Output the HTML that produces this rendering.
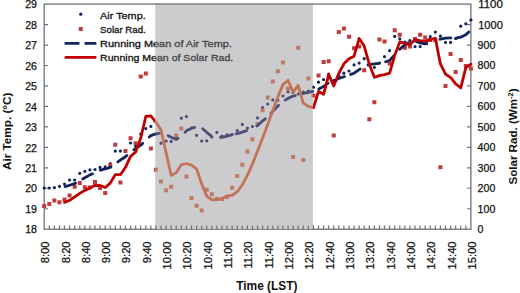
<!DOCTYPE html>
<html><head><meta charset="utf-8"><style>html,body{margin:0;padding:0;background:#fff;overflow:hidden}svg{display:block}</style></head>
<body><svg width="520" height="293" viewBox="0 0 520 293"><rect x="44.2" y="4.1" width="426.70" height="225.10" fill="none" stroke="#737076" stroke-width="1.3"/>
<path d="M49.28 229.2V225.4M54.36 229.2V225.4M59.44 229.2V225.4M64.52 229.2V225.4M69.60 229.2V225.4M74.68 229.2V225.4M79.76 229.2V225.4M84.84 229.2V225.4M89.92 229.2V225.4M95.00 229.2V225.4M100.08 229.2V225.4M105.16 229.2V225.4M110.24 229.2V225.4M115.32 229.2V225.4M120.40 229.2V225.4M125.48 229.2V225.4M130.56 229.2V225.4M135.64 229.2V225.4M140.72 229.2V225.4M145.80 229.2V225.4M150.88 229.2V225.4M155.95 229.2V225.4M161.03 229.2V225.4M166.11 229.2V225.4M171.19 229.2V225.4M176.27 229.2V225.4M181.35 229.2V225.4M186.43 229.2V225.4M191.51 229.2V225.4M196.59 229.2V225.4M201.67 229.2V225.4M206.75 229.2V225.4M211.83 229.2V225.4M216.91 229.2V225.4M221.99 229.2V225.4M227.07 229.2V225.4M232.15 229.2V225.4M237.23 229.2V225.4M242.31 229.2V225.4M247.39 229.2V225.4M252.47 229.2V225.4M257.55 229.2V225.4M262.63 229.2V225.4M267.71 229.2V225.4M272.79 229.2V225.4M277.87 229.2V225.4M282.95 229.2V225.4M288.03 229.2V225.4M293.11 229.2V225.4M298.19 229.2V225.4M303.27 229.2V225.4M308.35 229.2V225.4M313.43 229.2V225.4M318.51 229.2V225.4M323.59 229.2V225.4M328.67 229.2V225.4M333.75 229.2V225.4M338.83 229.2V225.4M343.91 229.2V225.4M348.99 229.2V225.4M354.07 229.2V225.4M359.15 229.2V225.4M364.23 229.2V225.4M369.30 229.2V225.4M374.38 229.2V225.4M379.46 229.2V225.4M384.54 229.2V225.4M389.62 229.2V225.4M394.70 229.2V225.4M399.78 229.2V225.4M404.86 229.2V225.4M409.94 229.2V225.4M415.02 229.2V225.4M420.10 229.2V225.4M425.18 229.2V225.4M430.26 229.2V225.4M435.34 229.2V225.4M440.42 229.2V225.4M445.50 229.2V225.4M450.58 229.2V225.4M455.66 229.2V225.4M460.74 229.2V225.4M465.82 229.2V225.4M44.2 208.74H48.0M44.2 188.27H48.0M44.2 167.81H48.0M44.2 147.35H48.0M44.2 126.88H48.0M44.2 106.42H48.0M44.2 85.95H48.0M44.2 65.49H48.0M44.2 45.03H48.0M44.2 24.56H48.0M470.9 208.74H467.1M470.9 188.27H467.1M470.9 167.81H467.1M470.9 147.35H467.1M470.9 126.88H467.1M470.9 106.42H467.1M470.9 85.95H467.1M470.9 65.49H467.1M470.9 45.03H467.1M470.9 24.56H467.1" stroke="#737076" stroke-width="1.2" fill="none"/>
<path d="M42.60 188.00a1.6 1.6 0 1 0 3.2 0a1.6 1.6 0 1 0 -3.2 0zM47.68 188.00a1.6 1.6 0 1 0 3.2 0a1.6 1.6 0 1 0 -3.2 0zM52.76 187.70a1.6 1.6 0 1 0 3.2 0a1.6 1.6 0 1 0 -3.2 0zM57.84 186.30a1.6 1.6 0 1 0 3.2 0a1.6 1.6 0 1 0 -3.2 0zM62.92 184.10a1.6 1.6 0 1 0 3.2 0a1.6 1.6 0 1 0 -3.2 0zM68.00 180.00a1.6 1.6 0 1 0 3.2 0a1.6 1.6 0 1 0 -3.2 0zM73.08 180.00a1.6 1.6 0 1 0 3.2 0a1.6 1.6 0 1 0 -3.2 0zM78.16 173.30a1.6 1.6 0 1 0 3.2 0a1.6 1.6 0 1 0 -3.2 0zM83.24 171.30a1.6 1.6 0 1 0 3.2 0a1.6 1.6 0 1 0 -3.2 0zM88.32 169.80a1.6 1.6 0 1 0 3.2 0a1.6 1.6 0 1 0 -3.2 0zM93.40 169.50a1.6 1.6 0 1 0 3.2 0a1.6 1.6 0 1 0 -3.2 0zM98.48 167.40a1.6 1.6 0 1 0 3.2 0a1.6 1.6 0 1 0 -3.2 0zM103.56 166.90a1.6 1.6 0 1 0 3.2 0a1.6 1.6 0 1 0 -3.2 0zM108.64 163.60a1.6 1.6 0 1 0 3.2 0a1.6 1.6 0 1 0 -3.2 0zM113.72 151.10a1.6 1.6 0 1 0 3.2 0a1.6 1.6 0 1 0 -3.2 0zM118.80 151.10a1.6 1.6 0 1 0 3.2 0a1.6 1.6 0 1 0 -3.2 0zM123.88 151.30a1.6 1.6 0 1 0 3.2 0a1.6 1.6 0 1 0 -3.2 0zM128.96 143.00a1.6 1.6 0 1 0 3.2 0a1.6 1.6 0 1 0 -3.2 0zM134.04 146.00a1.6 1.6 0 1 0 3.2 0a1.6 1.6 0 1 0 -3.2 0zM139.12 134.00a1.6 1.6 0 1 0 3.2 0a1.6 1.6 0 1 0 -3.2 0zM144.20 128.60a1.6 1.6 0 1 0 3.2 0a1.6 1.6 0 1 0 -3.2 0zM149.28 126.40a1.6 1.6 0 1 0 3.2 0a1.6 1.6 0 1 0 -3.2 0zM154.35 134.00a1.6 1.6 0 1 0 3.2 0a1.6 1.6 0 1 0 -3.2 0zM159.43 143.20a1.6 1.6 0 1 0 3.2 0a1.6 1.6 0 1 0 -3.2 0zM164.51 141.10a1.6 1.6 0 1 0 3.2 0a1.6 1.6 0 1 0 -3.2 0zM169.59 141.40a1.6 1.6 0 1 0 3.2 0a1.6 1.6 0 1 0 -3.2 0zM174.67 137.00a1.6 1.6 0 1 0 3.2 0a1.6 1.6 0 1 0 -3.2 0zM179.75 118.20a1.6 1.6 0 1 0 3.2 0a1.6 1.6 0 1 0 -3.2 0zM184.83 116.50a1.6 1.6 0 1 0 3.2 0a1.6 1.6 0 1 0 -3.2 0zM189.91 128.00a1.6 1.6 0 1 0 3.2 0a1.6 1.6 0 1 0 -3.2 0zM194.99 135.30a1.6 1.6 0 1 0 3.2 0a1.6 1.6 0 1 0 -3.2 0zM200.07 141.00a1.6 1.6 0 1 0 3.2 0a1.6 1.6 0 1 0 -3.2 0zM205.15 140.80a1.6 1.6 0 1 0 3.2 0a1.6 1.6 0 1 0 -3.2 0zM210.23 137.00a1.6 1.6 0 1 0 3.2 0a1.6 1.6 0 1 0 -3.2 0zM215.31 132.30a1.6 1.6 0 1 0 3.2 0a1.6 1.6 0 1 0 -3.2 0zM220.39 136.00a1.6 1.6 0 1 0 3.2 0a1.6 1.6 0 1 0 -3.2 0zM225.47 134.90a1.6 1.6 0 1 0 3.2 0a1.6 1.6 0 1 0 -3.2 0zM230.55 134.40a1.6 1.6 0 1 0 3.2 0a1.6 1.6 0 1 0 -3.2 0zM235.63 130.60a1.6 1.6 0 1 0 3.2 0a1.6 1.6 0 1 0 -3.2 0zM240.71 124.40a1.6 1.6 0 1 0 3.2 0a1.6 1.6 0 1 0 -3.2 0zM245.79 128.00a1.6 1.6 0 1 0 3.2 0a1.6 1.6 0 1 0 -3.2 0zM250.87 126.50a1.6 1.6 0 1 0 3.2 0a1.6 1.6 0 1 0 -3.2 0zM255.95 117.90a1.6 1.6 0 1 0 3.2 0a1.6 1.6 0 1 0 -3.2 0zM261.03 107.70a1.6 1.6 0 1 0 3.2 0a1.6 1.6 0 1 0 -3.2 0zM266.11 104.00a1.6 1.6 0 1 0 3.2 0a1.6 1.6 0 1 0 -3.2 0zM271.19 99.90a1.6 1.6 0 1 0 3.2 0a1.6 1.6 0 1 0 -3.2 0zM276.27 100.10a1.6 1.6 0 1 0 3.2 0a1.6 1.6 0 1 0 -3.2 0zM281.35 96.00a1.6 1.6 0 1 0 3.2 0a1.6 1.6 0 1 0 -3.2 0zM286.43 91.80a1.6 1.6 0 1 0 3.2 0a1.6 1.6 0 1 0 -3.2 0zM291.51 92.50a1.6 1.6 0 1 0 3.2 0a1.6 1.6 0 1 0 -3.2 0zM296.59 94.00a1.6 1.6 0 1 0 3.2 0a1.6 1.6 0 1 0 -3.2 0zM301.67 92.00a1.6 1.6 0 1 0 3.2 0a1.6 1.6 0 1 0 -3.2 0zM306.75 91.00a1.6 1.6 0 1 0 3.2 0a1.6 1.6 0 1 0 -3.2 0zM311.83 87.20a1.6 1.6 0 1 0 3.2 0a1.6 1.6 0 1 0 -3.2 0zM316.91 82.20a1.6 1.6 0 1 0 3.2 0a1.6 1.6 0 1 0 -3.2 0zM321.99 79.60a1.6 1.6 0 1 0 3.2 0a1.6 1.6 0 1 0 -3.2 0zM327.07 74.00a1.6 1.6 0 1 0 3.2 0a1.6 1.6 0 1 0 -3.2 0zM332.15 80.50a1.6 1.6 0 1 0 3.2 0a1.6 1.6 0 1 0 -3.2 0zM337.23 76.40a1.6 1.6 0 1 0 3.2 0a1.6 1.6 0 1 0 -3.2 0zM342.31 73.20a1.6 1.6 0 1 0 3.2 0a1.6 1.6 0 1 0 -3.2 0zM347.39 71.00a1.6 1.6 0 1 0 3.2 0a1.6 1.6 0 1 0 -3.2 0zM352.47 64.90a1.6 1.6 0 1 0 3.2 0a1.6 1.6 0 1 0 -3.2 0zM357.55 63.10a1.6 1.6 0 1 0 3.2 0a1.6 1.6 0 1 0 -3.2 0zM362.62 58.70a1.6 1.6 0 1 0 3.2 0a1.6 1.6 0 1 0 -3.2 0zM367.70 65.00a1.6 1.6 0 1 0 3.2 0a1.6 1.6 0 1 0 -3.2 0zM372.78 67.30a1.6 1.6 0 1 0 3.2 0a1.6 1.6 0 1 0 -3.2 0zM377.86 63.00a1.6 1.6 0 1 0 3.2 0a1.6 1.6 0 1 0 -3.2 0zM382.94 56.60a1.6 1.6 0 1 0 3.2 0a1.6 1.6 0 1 0 -3.2 0zM388.02 50.70a1.6 1.6 0 1 0 3.2 0a1.6 1.6 0 1 0 -3.2 0zM393.10 36.40a1.6 1.6 0 1 0 3.2 0a1.6 1.6 0 1 0 -3.2 0zM398.18 38.80a1.6 1.6 0 1 0 3.2 0a1.6 1.6 0 1 0 -3.2 0zM403.26 42.10a1.6 1.6 0 1 0 3.2 0a1.6 1.6 0 1 0 -3.2 0zM408.34 40.50a1.6 1.6 0 1 0 3.2 0a1.6 1.6 0 1 0 -3.2 0zM413.42 46.60a1.6 1.6 0 1 0 3.2 0a1.6 1.6 0 1 0 -3.2 0zM418.50 46.60a1.6 1.6 0 1 0 3.2 0a1.6 1.6 0 1 0 -3.2 0zM423.58 43.60a1.6 1.6 0 1 0 3.2 0a1.6 1.6 0 1 0 -3.2 0zM428.66 36.60a1.6 1.6 0 1 0 3.2 0a1.6 1.6 0 1 0 -3.2 0zM433.74 32.10a1.6 1.6 0 1 0 3.2 0a1.6 1.6 0 1 0 -3.2 0zM438.82 36.20a1.6 1.6 0 1 0 3.2 0a1.6 1.6 0 1 0 -3.2 0zM443.90 42.40a1.6 1.6 0 1 0 3.2 0a1.6 1.6 0 1 0 -3.2 0zM448.98 42.40a1.6 1.6 0 1 0 3.2 0a1.6 1.6 0 1 0 -3.2 0zM454.06 38.50a1.6 1.6 0 1 0 3.2 0a1.6 1.6 0 1 0 -3.2 0zM459.14 26.20a1.6 1.6 0 1 0 3.2 0a1.6 1.6 0 1 0 -3.2 0zM464.22 23.80a1.6 1.6 0 1 0 3.2 0a1.6 1.6 0 1 0 -3.2 0zM469.30 19.90a1.6 1.6 0 1 0 3.2 0a1.6 1.6 0 1 0 -3.2 0z" fill="#0f2458"/>
<path d="M42.20 204.00h4v4h-4zM47.28 201.90h4v4h-4zM52.36 198.50h4v4h-4zM57.44 200.20h4v4h-4zM62.52 197.50h4v4h-4zM67.60 193.40h4v4h-4zM72.68 184.80h4v4h-4zM77.76 180.90h4v4h-4zM82.84 185.20h4v4h-4zM87.92 185.50h4v4h-4zM93.00 180.10h4v4h-4zM98.08 185.90h4v4h-4zM103.16 191.00h4v4h-4zM108.24 163.20h4v4h-4zM113.32 142.70h4v4h-4zM118.40 180.60h4v4h-4zM123.48 149.10h4v4h-4zM128.56 136.20h4v4h-4zM133.64 141.20h4v4h-4zM138.72 74.40h4v4h-4zM143.80 71.60h4v4h-4zM148.88 146.40h4v4h-4zM153.95 167.80h4v4h-4zM159.03 179.60h4v4h-4zM164.11 188.20h4v4h-4zM169.19 184.80h4v4h-4zM174.27 133.60h4v4h-4zM179.35 126.40h4v4h-4zM184.43 174.50h4v4h-4zM189.51 196.00h4v4h-4zM194.59 203.80h4v4h-4zM199.67 208.50h4v4h-4zM204.75 187.80h4v4h-4zM209.83 192.30h4v4h-4zM214.91 197.00h4v4h-4zM219.99 197.00h4v4h-4zM225.07 195.00h4v4h-4zM230.15 185.80h4v4h-4zM235.23 173.90h4v4h-4zM240.31 162.80h4v4h-4zM245.39 149.60h4v4h-4zM250.47 137.20h4v4h-4zM255.55 121.90h4v4h-4zM260.63 108.20h4v4h-4zM265.71 95.50h4v4h-4zM270.79 79.60h4v4h-4zM275.87 69.30h4v4h-4zM280.95 60.40h4v4h-4zM286.03 86.50h4v4h-4zM291.11 155.00h4v4h-4zM296.19 45.70h4v4h-4zM301.27 157.90h4v4h-4zM306.35 76.50h4v4h-4zM311.43 93.50h4v4h-4zM316.51 73.50h4v4h-4zM321.59 60.00h4v4h-4zM326.67 59.20h4v4h-4zM331.75 133.50h4v4h-4zM336.83 29.90h4v4h-4zM341.91 26.60h4v4h-4zM346.99 34.80h4v4h-4zM352.07 46.30h4v4h-4zM357.15 44.60h4v4h-4zM362.23 68.20h4v4h-4zM367.30 117.30h4v4h-4zM372.38 100.30h4v4h-4zM377.46 37.50h4v4h-4zM382.54 39.50h4v4h-4zM387.62 61.40h4v4h-4zM392.70 28.20h4v4h-4zM397.78 32.80h4v4h-4zM402.86 45.70h4v4h-4zM407.94 44.60h4v4h-4zM413.02 37.00h4v4h-4zM418.10 32.80h4v4h-4zM423.18 35.50h4v4h-4zM428.26 38.00h4v4h-4zM433.34 38.00h4v4h-4zM438.42 165.30h4v4h-4zM443.50 83.90h4v4h-4zM448.58 52.10h4v4h-4zM453.66 70.10h4v4h-4zM458.74 58.00h4v4h-4zM463.82 64.00h4v4h-4zM468.90 66.60h4v4h-4z" fill="#c0393c"/>
<polyline points="64.52,186.82 69.60,185.22 74.68,183.62 79.76,180.74 84.84,177.74 89.92,174.88 95.00,172.78 100.08,170.26 105.16,168.98 110.24,167.44 115.32,163.70 120.40,160.02 125.48,156.80 130.56,152.02 135.64,148.50 140.72,145.08 145.80,140.58 150.88,135.60 155.95,133.80 161.03,133.24 166.11,134.66 171.19,137.22 176.27,139.34 181.35,136.18 186.43,130.84 191.51,128.22 196.59,127.00 201.67,127.80 206.75,132.32 211.83,136.42 216.91,137.28 221.99,137.42 227.07,136.20 232.15,134.92 237.23,133.64 242.31,132.06 247.39,130.46 252.47,128.78 257.55,125.48 262.63,120.90 267.71,116.82 272.79,111.20 277.87,105.92 282.95,101.54 288.03,98.36 293.11,96.06 298.19,94.88 303.27,93.26 308.35,92.26 313.43,91.34 318.51,89.28 323.59,86.40 328.67,82.80 333.75,80.70 338.83,78.54 343.91,76.74 348.99,75.02 354.07,73.20 359.15,69.72 364.23,66.18 369.30,64.54 374.38,63.80 379.46,63.42 384.54,62.12 389.62,60.52 394.70,54.80 399.78,49.10 404.86,44.92 409.94,41.70 415.02,40.88 420.10,42.92 425.18,43.88 430.26,42.78 435.34,41.10 440.42,39.02 445.50,38.18 450.58,37.94 455.66,38.32 460.74,37.14 465.82,34.66 470.90,30.16" fill="none" stroke="#0f2458" stroke-width="2.8" stroke-dasharray="11.0,8.35,11.0,8.68,11.0,8.68,11.0,9.11,11.0,9.11,11.0,9.19,11.0,9.19,11.0,8.57,11.0,9.54,11.0,5.15,11.0,11.45,11.0,7.94,11.0,8.53,11.0,7.09,11.0,6.56,11.0,6.56,11.0,6.56,11.0,9.04,11.0,6.98,11.0,8.12,11.0,8.38,11.0,13.85,11.0,5.27,14.5,1000" stroke-dashoffset="-0.62" stroke-linejoin="round" stroke-linecap="round"/>
<polyline points="64.52,202.42 69.60,200.30 74.68,196.88 79.76,193.36 84.84,190.36 89.92,187.96 95.00,185.30 100.08,185.52 105.16,187.54 110.24,183.14 115.32,174.58 120.40,174.68 125.48,167.32 130.56,156.36 135.64,151.96 140.72,138.30 145.80,116.50 150.88,115.96 155.95,122.28 161.03,129.96 166.11,152.72 171.19,175.36 176.27,172.80 181.35,164.52 186.43,163.50 191.51,165.06 196.59,168.86 201.67,183.84 206.75,196.12 211.83,199.68 216.91,199.88 221.99,198.52 227.07,195.82 232.15,195.42 237.23,191.74 242.31,184.90 247.39,175.42 252.47,163.86 257.55,151.08 262.63,137.94 267.71,124.48 272.79,110.48 277.87,96.90 282.95,84.60 288.03,80.26 293.11,92.16 298.19,85.38 303.27,103.10 308.35,106.32 313.43,107.72 318.51,91.42 323.59,94.28 328.67,74.54 333.75,85.94 338.83,73.22 343.91,63.84 348.99,58.80 354.07,56.22 359.15,38.44 364.23,46.10 369.30,64.24 374.38,77.34 379.46,75.58 384.54,74.56 389.62,73.20 394.70,55.38 399.78,41.88 404.86,43.52 409.94,44.54 415.02,39.66 420.10,40.58 425.18,41.12 430.26,39.58 435.34,38.26 440.42,63.92 445.50,74.14 450.58,77.46 455.66,83.88 460.74,87.88 465.82,67.62 470.90,64.16" fill="none" stroke="#c00000" stroke-width="2.8" stroke-linejoin="round" stroke-linecap="round"/>
<circle cx="80.8" cy="14.2" r="1.6" fill="#0f2458"/>
<rect x="78.8" y="27" width="4" height="4" fill="#c0393c"/>
<line x1="65.8" y1="43.4" x2="95.2" y2="43.4" stroke="#0f2458" stroke-width="2.8" stroke-dasharray="12.5 7.5" stroke-linecap="round"/>
<line x1="65.8" y1="57.4" x2="95.2" y2="57.4" stroke="#c00000" stroke-width="2.8" stroke-linecap="round"/>
<text x="100.1" y="18.7" font-family="'Liberation Sans', sans-serif" font-size="9.9" font-weight="normal" fill="#111" stroke="#111" stroke-width="0.3" textLength="45.6" lengthAdjust="spacingAndGlyphs" text-anchor="start" >Air Temp.</text>
<text x="100.1" y="32.5" font-family="'Liberation Sans', sans-serif" font-size="9.9" font-weight="normal" fill="#111" stroke="#111" stroke-width="0.3" textLength="45.6" lengthAdjust="spacingAndGlyphs" text-anchor="start" >Solar Rad.</text>
<text x="100.1" y="46.9" font-family="'Liberation Sans', sans-serif" font-size="9.9" font-weight="normal" fill="#111" stroke="#111" stroke-width="0.3" textLength="131.8" lengthAdjust="spacingAndGlyphs" text-anchor="start" >Running Mean of Air Temp.</text>
<text x="100.1" y="60.9" font-family="'Liberation Sans', sans-serif" font-size="9.9" font-weight="normal" fill="#111" stroke="#111" stroke-width="0.3" textLength="133.1" lengthAdjust="spacingAndGlyphs" text-anchor="start" >Running Mean of Solar Rad.</text>
<defs><clipPath id="ov"><rect x="155.2" y="4.9" width="157.70" height="223.70"/></clipPath></defs>
<rect x="155.2" y="4.9" width="157.70" height="223.70" fill="#cccccf"/>
<g clip-path="url(#ov)"><path d="M42.60 188.00a1.6 1.6 0 1 0 3.2 0a1.6 1.6 0 1 0 -3.2 0zM47.68 188.00a1.6 1.6 0 1 0 3.2 0a1.6 1.6 0 1 0 -3.2 0zM52.76 187.70a1.6 1.6 0 1 0 3.2 0a1.6 1.6 0 1 0 -3.2 0zM57.84 186.30a1.6 1.6 0 1 0 3.2 0a1.6 1.6 0 1 0 -3.2 0zM62.92 184.10a1.6 1.6 0 1 0 3.2 0a1.6 1.6 0 1 0 -3.2 0zM68.00 180.00a1.6 1.6 0 1 0 3.2 0a1.6 1.6 0 1 0 -3.2 0zM73.08 180.00a1.6 1.6 0 1 0 3.2 0a1.6 1.6 0 1 0 -3.2 0zM78.16 173.30a1.6 1.6 0 1 0 3.2 0a1.6 1.6 0 1 0 -3.2 0zM83.24 171.30a1.6 1.6 0 1 0 3.2 0a1.6 1.6 0 1 0 -3.2 0zM88.32 169.80a1.6 1.6 0 1 0 3.2 0a1.6 1.6 0 1 0 -3.2 0zM93.40 169.50a1.6 1.6 0 1 0 3.2 0a1.6 1.6 0 1 0 -3.2 0zM98.48 167.40a1.6 1.6 0 1 0 3.2 0a1.6 1.6 0 1 0 -3.2 0zM103.56 166.90a1.6 1.6 0 1 0 3.2 0a1.6 1.6 0 1 0 -3.2 0zM108.64 163.60a1.6 1.6 0 1 0 3.2 0a1.6 1.6 0 1 0 -3.2 0zM113.72 151.10a1.6 1.6 0 1 0 3.2 0a1.6 1.6 0 1 0 -3.2 0zM118.80 151.10a1.6 1.6 0 1 0 3.2 0a1.6 1.6 0 1 0 -3.2 0zM123.88 151.30a1.6 1.6 0 1 0 3.2 0a1.6 1.6 0 1 0 -3.2 0zM128.96 143.00a1.6 1.6 0 1 0 3.2 0a1.6 1.6 0 1 0 -3.2 0zM134.04 146.00a1.6 1.6 0 1 0 3.2 0a1.6 1.6 0 1 0 -3.2 0zM139.12 134.00a1.6 1.6 0 1 0 3.2 0a1.6 1.6 0 1 0 -3.2 0zM144.20 128.60a1.6 1.6 0 1 0 3.2 0a1.6 1.6 0 1 0 -3.2 0zM149.28 126.40a1.6 1.6 0 1 0 3.2 0a1.6 1.6 0 1 0 -3.2 0zM154.35 134.00a1.6 1.6 0 1 0 3.2 0a1.6 1.6 0 1 0 -3.2 0zM159.43 143.20a1.6 1.6 0 1 0 3.2 0a1.6 1.6 0 1 0 -3.2 0zM164.51 141.10a1.6 1.6 0 1 0 3.2 0a1.6 1.6 0 1 0 -3.2 0zM169.59 141.40a1.6 1.6 0 1 0 3.2 0a1.6 1.6 0 1 0 -3.2 0zM174.67 137.00a1.6 1.6 0 1 0 3.2 0a1.6 1.6 0 1 0 -3.2 0zM179.75 118.20a1.6 1.6 0 1 0 3.2 0a1.6 1.6 0 1 0 -3.2 0zM184.83 116.50a1.6 1.6 0 1 0 3.2 0a1.6 1.6 0 1 0 -3.2 0zM189.91 128.00a1.6 1.6 0 1 0 3.2 0a1.6 1.6 0 1 0 -3.2 0zM194.99 135.30a1.6 1.6 0 1 0 3.2 0a1.6 1.6 0 1 0 -3.2 0zM200.07 141.00a1.6 1.6 0 1 0 3.2 0a1.6 1.6 0 1 0 -3.2 0zM205.15 140.80a1.6 1.6 0 1 0 3.2 0a1.6 1.6 0 1 0 -3.2 0zM210.23 137.00a1.6 1.6 0 1 0 3.2 0a1.6 1.6 0 1 0 -3.2 0zM215.31 132.30a1.6 1.6 0 1 0 3.2 0a1.6 1.6 0 1 0 -3.2 0zM220.39 136.00a1.6 1.6 0 1 0 3.2 0a1.6 1.6 0 1 0 -3.2 0zM225.47 134.90a1.6 1.6 0 1 0 3.2 0a1.6 1.6 0 1 0 -3.2 0zM230.55 134.40a1.6 1.6 0 1 0 3.2 0a1.6 1.6 0 1 0 -3.2 0zM235.63 130.60a1.6 1.6 0 1 0 3.2 0a1.6 1.6 0 1 0 -3.2 0zM240.71 124.40a1.6 1.6 0 1 0 3.2 0a1.6 1.6 0 1 0 -3.2 0zM245.79 128.00a1.6 1.6 0 1 0 3.2 0a1.6 1.6 0 1 0 -3.2 0zM250.87 126.50a1.6 1.6 0 1 0 3.2 0a1.6 1.6 0 1 0 -3.2 0zM255.95 117.90a1.6 1.6 0 1 0 3.2 0a1.6 1.6 0 1 0 -3.2 0zM261.03 107.70a1.6 1.6 0 1 0 3.2 0a1.6 1.6 0 1 0 -3.2 0zM266.11 104.00a1.6 1.6 0 1 0 3.2 0a1.6 1.6 0 1 0 -3.2 0zM271.19 99.90a1.6 1.6 0 1 0 3.2 0a1.6 1.6 0 1 0 -3.2 0zM276.27 100.10a1.6 1.6 0 1 0 3.2 0a1.6 1.6 0 1 0 -3.2 0zM281.35 96.00a1.6 1.6 0 1 0 3.2 0a1.6 1.6 0 1 0 -3.2 0zM286.43 91.80a1.6 1.6 0 1 0 3.2 0a1.6 1.6 0 1 0 -3.2 0zM291.51 92.50a1.6 1.6 0 1 0 3.2 0a1.6 1.6 0 1 0 -3.2 0zM296.59 94.00a1.6 1.6 0 1 0 3.2 0a1.6 1.6 0 1 0 -3.2 0zM301.67 92.00a1.6 1.6 0 1 0 3.2 0a1.6 1.6 0 1 0 -3.2 0zM306.75 91.00a1.6 1.6 0 1 0 3.2 0a1.6 1.6 0 1 0 -3.2 0zM311.83 87.20a1.6 1.6 0 1 0 3.2 0a1.6 1.6 0 1 0 -3.2 0zM316.91 82.20a1.6 1.6 0 1 0 3.2 0a1.6 1.6 0 1 0 -3.2 0zM321.99 79.60a1.6 1.6 0 1 0 3.2 0a1.6 1.6 0 1 0 -3.2 0zM327.07 74.00a1.6 1.6 0 1 0 3.2 0a1.6 1.6 0 1 0 -3.2 0zM332.15 80.50a1.6 1.6 0 1 0 3.2 0a1.6 1.6 0 1 0 -3.2 0zM337.23 76.40a1.6 1.6 0 1 0 3.2 0a1.6 1.6 0 1 0 -3.2 0zM342.31 73.20a1.6 1.6 0 1 0 3.2 0a1.6 1.6 0 1 0 -3.2 0zM347.39 71.00a1.6 1.6 0 1 0 3.2 0a1.6 1.6 0 1 0 -3.2 0zM352.47 64.90a1.6 1.6 0 1 0 3.2 0a1.6 1.6 0 1 0 -3.2 0zM357.55 63.10a1.6 1.6 0 1 0 3.2 0a1.6 1.6 0 1 0 -3.2 0zM362.62 58.70a1.6 1.6 0 1 0 3.2 0a1.6 1.6 0 1 0 -3.2 0zM367.70 65.00a1.6 1.6 0 1 0 3.2 0a1.6 1.6 0 1 0 -3.2 0zM372.78 67.30a1.6 1.6 0 1 0 3.2 0a1.6 1.6 0 1 0 -3.2 0zM377.86 63.00a1.6 1.6 0 1 0 3.2 0a1.6 1.6 0 1 0 -3.2 0zM382.94 56.60a1.6 1.6 0 1 0 3.2 0a1.6 1.6 0 1 0 -3.2 0zM388.02 50.70a1.6 1.6 0 1 0 3.2 0a1.6 1.6 0 1 0 -3.2 0zM393.10 36.40a1.6 1.6 0 1 0 3.2 0a1.6 1.6 0 1 0 -3.2 0zM398.18 38.80a1.6 1.6 0 1 0 3.2 0a1.6 1.6 0 1 0 -3.2 0zM403.26 42.10a1.6 1.6 0 1 0 3.2 0a1.6 1.6 0 1 0 -3.2 0zM408.34 40.50a1.6 1.6 0 1 0 3.2 0a1.6 1.6 0 1 0 -3.2 0zM413.42 46.60a1.6 1.6 0 1 0 3.2 0a1.6 1.6 0 1 0 -3.2 0zM418.50 46.60a1.6 1.6 0 1 0 3.2 0a1.6 1.6 0 1 0 -3.2 0zM423.58 43.60a1.6 1.6 0 1 0 3.2 0a1.6 1.6 0 1 0 -3.2 0zM428.66 36.60a1.6 1.6 0 1 0 3.2 0a1.6 1.6 0 1 0 -3.2 0zM433.74 32.10a1.6 1.6 0 1 0 3.2 0a1.6 1.6 0 1 0 -3.2 0zM438.82 36.20a1.6 1.6 0 1 0 3.2 0a1.6 1.6 0 1 0 -3.2 0zM443.90 42.40a1.6 1.6 0 1 0 3.2 0a1.6 1.6 0 1 0 -3.2 0zM448.98 42.40a1.6 1.6 0 1 0 3.2 0a1.6 1.6 0 1 0 -3.2 0zM454.06 38.50a1.6 1.6 0 1 0 3.2 0a1.6 1.6 0 1 0 -3.2 0zM459.14 26.20a1.6 1.6 0 1 0 3.2 0a1.6 1.6 0 1 0 -3.2 0zM464.22 23.80a1.6 1.6 0 1 0 3.2 0a1.6 1.6 0 1 0 -3.2 0zM469.30 19.90a1.6 1.6 0 1 0 3.2 0a1.6 1.6 0 1 0 -3.2 0z" fill="#4d4e74"/><path d="M42.20 204.00h4v4h-4zM47.28 201.90h4v4h-4zM52.36 198.50h4v4h-4zM57.44 200.20h4v4h-4zM62.52 197.50h4v4h-4zM67.60 193.40h4v4h-4zM72.68 184.80h4v4h-4zM77.76 180.90h4v4h-4zM82.84 185.20h4v4h-4zM87.92 185.50h4v4h-4zM93.00 180.10h4v4h-4zM98.08 185.90h4v4h-4zM103.16 191.00h4v4h-4zM108.24 163.20h4v4h-4zM113.32 142.70h4v4h-4zM118.40 180.60h4v4h-4zM123.48 149.10h4v4h-4zM128.56 136.20h4v4h-4zM133.64 141.20h4v4h-4zM138.72 74.40h4v4h-4zM143.80 71.60h4v4h-4zM148.88 146.40h4v4h-4zM153.95 167.80h4v4h-4zM159.03 179.60h4v4h-4zM164.11 188.20h4v4h-4zM169.19 184.80h4v4h-4zM174.27 133.60h4v4h-4zM179.35 126.40h4v4h-4zM184.43 174.50h4v4h-4zM189.51 196.00h4v4h-4zM194.59 203.80h4v4h-4zM199.67 208.50h4v4h-4zM204.75 187.80h4v4h-4zM209.83 192.30h4v4h-4zM214.91 197.00h4v4h-4zM219.99 197.00h4v4h-4zM225.07 195.00h4v4h-4zM230.15 185.80h4v4h-4zM235.23 173.90h4v4h-4zM240.31 162.80h4v4h-4zM245.39 149.60h4v4h-4zM250.47 137.20h4v4h-4zM255.55 121.90h4v4h-4zM260.63 108.20h4v4h-4zM265.71 95.50h4v4h-4zM270.79 79.60h4v4h-4zM275.87 69.30h4v4h-4zM280.95 60.40h4v4h-4zM286.03 86.50h4v4h-4zM291.11 155.00h4v4h-4zM296.19 45.70h4v4h-4zM301.27 157.90h4v4h-4zM306.35 76.50h4v4h-4zM311.43 93.50h4v4h-4zM316.51 73.50h4v4h-4zM321.59 60.00h4v4h-4zM326.67 59.20h4v4h-4zM331.75 133.50h4v4h-4zM336.83 29.90h4v4h-4zM341.91 26.60h4v4h-4zM346.99 34.80h4v4h-4zM352.07 46.30h4v4h-4zM357.15 44.60h4v4h-4zM362.23 68.20h4v4h-4zM367.30 117.30h4v4h-4zM372.38 100.30h4v4h-4zM377.46 37.50h4v4h-4zM382.54 39.50h4v4h-4zM387.62 61.40h4v4h-4zM392.70 28.20h4v4h-4zM397.78 32.80h4v4h-4zM402.86 45.70h4v4h-4zM407.94 44.60h4v4h-4zM413.02 37.00h4v4h-4zM418.10 32.80h4v4h-4zM423.18 35.50h4v4h-4zM428.26 38.00h4v4h-4zM433.34 38.00h4v4h-4zM438.42 165.30h4v4h-4zM443.50 83.90h4v4h-4zM448.58 52.10h4v4h-4zM453.66 70.10h4v4h-4zM458.74 58.00h4v4h-4zM463.82 64.00h4v4h-4zM468.90 66.60h4v4h-4z" fill="#bf7a64"/><polyline points="64.52,186.82 69.60,185.22 74.68,183.62 79.76,180.74 84.84,177.74 89.92,174.88 95.00,172.78 100.08,170.26 105.16,168.98 110.24,167.44 115.32,163.70 120.40,160.02 125.48,156.80 130.56,152.02 135.64,148.50 140.72,145.08 145.80,140.58 150.88,135.60 155.95,133.80 161.03,133.24 166.11,134.66 171.19,137.22 176.27,139.34 181.35,136.18 186.43,130.84 191.51,128.22 196.59,127.00 201.67,127.80 206.75,132.32 211.83,136.42 216.91,137.28 221.99,137.42 227.07,136.20 232.15,134.92 237.23,133.64 242.31,132.06 247.39,130.46 252.47,128.78 257.55,125.48 262.63,120.90 267.71,116.82 272.79,111.20 277.87,105.92 282.95,101.54 288.03,98.36 293.11,96.06 298.19,94.88 303.27,93.26 308.35,92.26 313.43,91.34 318.51,89.28 323.59,86.40 328.67,82.80 333.75,80.70 338.83,78.54 343.91,76.74 348.99,75.02 354.07,73.20 359.15,69.72 364.23,66.18 369.30,64.54 374.38,63.80 379.46,63.42 384.54,62.12 389.62,60.52 394.70,54.80 399.78,49.10 404.86,44.92 409.94,41.70 415.02,40.88 420.10,42.92 425.18,43.88 430.26,42.78 435.34,41.10 440.42,39.02 445.50,38.18 450.58,37.94 455.66,38.32 460.74,37.14 465.82,34.66 470.90,30.16" fill="none" stroke="#4d4e74" stroke-width="2.8" stroke-dasharray="11.0,8.35,11.0,8.68,11.0,8.68,11.0,9.11,11.0,9.11,11.0,9.19,11.0,9.19,11.0,8.57,11.0,9.54,11.0,5.15,11.0,11.45,11.0,7.94,11.0,8.53,11.0,7.09,11.0,6.56,11.0,6.56,11.0,6.56,11.0,9.04,11.0,6.98,11.0,8.12,11.0,8.38,11.0,13.85,11.0,5.27,14.5,1000" stroke-dashoffset="-0.62" stroke-linejoin="round" stroke-linecap="round"/><polyline points="64.52,202.42 69.60,200.30 74.68,196.88 79.76,193.36 84.84,190.36 89.92,187.96 95.00,185.30 100.08,185.52 105.16,187.54 110.24,183.14 115.32,174.58 120.40,174.68 125.48,167.32 130.56,156.36 135.64,151.96 140.72,138.30 145.80,116.50 150.88,115.96 155.95,122.28 161.03,129.96 166.11,152.72 171.19,175.36 176.27,172.80 181.35,164.52 186.43,163.50 191.51,165.06 196.59,168.86 201.67,183.84 206.75,196.12 211.83,199.68 216.91,199.88 221.99,198.52 227.07,195.82 232.15,195.42 237.23,191.74 242.31,184.90 247.39,175.42 252.47,163.86 257.55,151.08 262.63,137.94 267.71,124.48 272.79,110.48 277.87,96.90 282.95,84.60 288.03,80.26 293.11,92.16 298.19,85.38 303.27,103.10 308.35,106.32 313.43,107.72 318.51,91.42 323.59,94.28 328.67,74.54 333.75,85.94 338.83,73.22 343.91,63.84 348.99,58.80 354.07,56.22 359.15,38.44 364.23,46.10 369.30,64.24 374.38,77.34 379.46,75.58 384.54,74.56 389.62,73.20 394.70,55.38 399.78,41.88 404.86,43.52 409.94,44.54 415.02,39.66 420.10,40.58 425.18,41.12 430.26,39.58 435.34,38.26 440.42,63.92 445.50,74.14 450.58,77.46 455.66,83.88 460.74,87.88 465.82,67.62 470.90,64.16" fill="none" stroke="#c27358" stroke-width="2.8" stroke-linejoin="round" stroke-linecap="round"/><circle cx="80.8" cy="14.2" r="1.6" fill="#4d4e74"/><rect x="78.8" y="27" width="4" height="4" fill="#bf7a64"/><line x1="65.8" y1="43.4" x2="95.2" y2="43.4" stroke="#4d4e74" stroke-width="2.8" stroke-dasharray="12.5 7.5" stroke-linecap="round"/><line x1="65.8" y1="57.4" x2="95.2" y2="57.4" stroke="#c27358" stroke-width="2.8" stroke-linecap="round"/><text x="100.1" y="18.7" font-family="'Liberation Sans', sans-serif" font-size="9.9" font-weight="normal" fill="#444" stroke="#444" stroke-width="0.3" textLength="45.6" lengthAdjust="spacingAndGlyphs" text-anchor="start" >Air Temp.</text><text x="100.1" y="32.5" font-family="'Liberation Sans', sans-serif" font-size="9.9" font-weight="normal" fill="#444" stroke="#444" stroke-width="0.3" textLength="45.6" lengthAdjust="spacingAndGlyphs" text-anchor="start" >Solar Rad.</text><text x="100.1" y="46.9" font-family="'Liberation Sans', sans-serif" font-size="9.9" font-weight="normal" fill="#444" stroke="#444" stroke-width="0.3" textLength="131.8" lengthAdjust="spacingAndGlyphs" text-anchor="start" >Running Mean of Air Temp.</text><text x="100.1" y="60.9" font-family="'Liberation Sans', sans-serif" font-size="9.9" font-weight="normal" fill="#444" stroke="#444" stroke-width="0.3" textLength="133.1" lengthAdjust="spacingAndGlyphs" text-anchor="start" >Running Mean of Solar Rad.</text></g>
<path d="M155.95 229.2V225.4M161.03 229.2V225.4M166.11 229.2V225.4M171.19 229.2V225.4M176.27 229.2V225.4M181.35 229.2V225.4M186.43 229.2V225.4M191.51 229.2V225.4M196.59 229.2V225.4M201.67 229.2V225.4M206.75 229.2V225.4M211.83 229.2V225.4M216.91 229.2V225.4M221.99 229.2V225.4M227.07 229.2V225.4M232.15 229.2V225.4M237.23 229.2V225.4M242.31 229.2V225.4M247.39 229.2V225.4M252.47 229.2V225.4M257.55 229.2V225.4M262.63 229.2V225.4M267.71 229.2V225.4M272.79 229.2V225.4M277.87 229.2V225.4M282.95 229.2V225.4M288.03 229.2V225.4M293.11 229.2V225.4M298.19 229.2V225.4M303.27 229.2V225.4M308.35 229.2V225.4M313.43 229.2V225.4" stroke="#737076" stroke-width="1.2" fill="none"/>
<path d="M155.2 4.1H312.9" stroke="#8e8b93" stroke-width="1.3" fill="none"/>
<text x="37.0" y="233.40" font-family="'Liberation Sans', sans-serif" font-size="10.6" fill="#111" stroke="#111" stroke-width="0.25" text-anchor="end">18</text>
<text x="37.0" y="212.94" font-family="'Liberation Sans', sans-serif" font-size="10.6" fill="#111" stroke="#111" stroke-width="0.25" text-anchor="end">19</text>
<text x="37.0" y="192.47" font-family="'Liberation Sans', sans-serif" font-size="10.6" fill="#111" stroke="#111" stroke-width="0.25" text-anchor="end">20</text>
<text x="37.0" y="172.01" font-family="'Liberation Sans', sans-serif" font-size="10.6" fill="#111" stroke="#111" stroke-width="0.25" text-anchor="end">21</text>
<text x="37.0" y="151.55" font-family="'Liberation Sans', sans-serif" font-size="10.6" fill="#111" stroke="#111" stroke-width="0.25" text-anchor="end">22</text>
<text x="37.0" y="131.08" font-family="'Liberation Sans', sans-serif" font-size="10.6" fill="#111" stroke="#111" stroke-width="0.25" text-anchor="end">23</text>
<text x="37.0" y="110.62" font-family="'Liberation Sans', sans-serif" font-size="10.6" fill="#111" stroke="#111" stroke-width="0.25" text-anchor="end">24</text>
<text x="37.0" y="90.15" font-family="'Liberation Sans', sans-serif" font-size="10.6" fill="#111" stroke="#111" stroke-width="0.25" text-anchor="end">25</text>
<text x="37.0" y="69.69" font-family="'Liberation Sans', sans-serif" font-size="10.6" fill="#111" stroke="#111" stroke-width="0.25" text-anchor="end">26</text>
<text x="37.0" y="49.23" font-family="'Liberation Sans', sans-serif" font-size="10.6" fill="#111" stroke="#111" stroke-width="0.25" text-anchor="end">27</text>
<text x="37.0" y="28.76" font-family="'Liberation Sans', sans-serif" font-size="10.6" fill="#111" stroke="#111" stroke-width="0.25" text-anchor="end">28</text>
<text x="37.0" y="8.30" font-family="'Liberation Sans', sans-serif" font-size="10.6" fill="#111" stroke="#111" stroke-width="0.25" text-anchor="end">29</text>
<text x="477.6" y="233.20" font-family="'Liberation Sans', sans-serif" font-size="10.6" fill="#111" stroke="#111" stroke-width="0.25">0</text>
<text x="477.6" y="212.74" font-family="'Liberation Sans', sans-serif" font-size="10.6" fill="#111" stroke="#111" stroke-width="0.25">100</text>
<text x="477.6" y="192.27" font-family="'Liberation Sans', sans-serif" font-size="10.6" fill="#111" stroke="#111" stroke-width="0.25">200</text>
<text x="477.6" y="171.81" font-family="'Liberation Sans', sans-serif" font-size="10.6" fill="#111" stroke="#111" stroke-width="0.25">300</text>
<text x="477.6" y="151.35" font-family="'Liberation Sans', sans-serif" font-size="10.6" fill="#111" stroke="#111" stroke-width="0.25">400</text>
<text x="477.6" y="130.88" font-family="'Liberation Sans', sans-serif" font-size="10.6" fill="#111" stroke="#111" stroke-width="0.25">500</text>
<text x="477.6" y="110.42" font-family="'Liberation Sans', sans-serif" font-size="10.6" fill="#111" stroke="#111" stroke-width="0.25">600</text>
<text x="477.6" y="89.95" font-family="'Liberation Sans', sans-serif" font-size="10.6" fill="#111" stroke="#111" stroke-width="0.25">700</text>
<text x="477.6" y="69.49" font-family="'Liberation Sans', sans-serif" font-size="10.6" fill="#111" stroke="#111" stroke-width="0.25">800</text>
<text x="477.6" y="49.03" font-family="'Liberation Sans', sans-serif" font-size="10.6" fill="#111" stroke="#111" stroke-width="0.25">900</text>
<text x="478.2" y="28.56" font-family="'Liberation Sans', sans-serif" font-size="10.6" fill="#111" stroke="#111" stroke-width="0.25" textLength="24.6" lengthAdjust="spacingAndGlyphs">1000</text>
<text x="478.2" y="8.10" font-family="'Liberation Sans', sans-serif" font-size="10.6" fill="#111" stroke="#111" stroke-width="0.25" textLength="24.6" lengthAdjust="spacingAndGlyphs">1100</text>
<text transform="translate(49.20,241.4) rotate(-90)" font-family="'Liberation Sans', sans-serif" font-size="11.2" fill="#111" stroke="#111" stroke-width="0.25" text-anchor="end">8:00</text>
<text transform="translate(69.52,241.4) rotate(-90)" font-family="'Liberation Sans', sans-serif" font-size="11.2" fill="#111" stroke="#111" stroke-width="0.25" text-anchor="end">8:20</text>
<text transform="translate(89.84,241.4) rotate(-90)" font-family="'Liberation Sans', sans-serif" font-size="11.2" fill="#111" stroke="#111" stroke-width="0.25" text-anchor="end">8:40</text>
<text transform="translate(110.16,241.4) rotate(-90)" font-family="'Liberation Sans', sans-serif" font-size="11.2" fill="#111" stroke="#111" stroke-width="0.25" text-anchor="end">9:00</text>
<text transform="translate(130.48,241.4) rotate(-90)" font-family="'Liberation Sans', sans-serif" font-size="11.2" fill="#111" stroke="#111" stroke-width="0.25" text-anchor="end">9:20</text>
<text transform="translate(150.80,241.4) rotate(-90)" font-family="'Liberation Sans', sans-serif" font-size="11.2" fill="#111" stroke="#111" stroke-width="0.25" text-anchor="end">9:40</text>
<text transform="translate(171.11,241.4) rotate(-90)" font-family="'Liberation Sans', sans-serif" font-size="11.2" fill="#111" stroke="#111" stroke-width="0.25" text-anchor="end">10:00</text>
<text transform="translate(191.43,241.4) rotate(-90)" font-family="'Liberation Sans', sans-serif" font-size="11.2" fill="#111" stroke="#111" stroke-width="0.25" text-anchor="end">10:20</text>
<text transform="translate(211.75,241.4) rotate(-90)" font-family="'Liberation Sans', sans-serif" font-size="11.2" fill="#111" stroke="#111" stroke-width="0.25" text-anchor="end">10:40</text>
<text transform="translate(232.07,241.4) rotate(-90)" font-family="'Liberation Sans', sans-serif" font-size="11.2" fill="#111" stroke="#111" stroke-width="0.25" text-anchor="end">11:00</text>
<text transform="translate(252.39,241.4) rotate(-90)" font-family="'Liberation Sans', sans-serif" font-size="11.2" fill="#111" stroke="#111" stroke-width="0.25" text-anchor="end">11:20</text>
<text transform="translate(272.71,241.4) rotate(-90)" font-family="'Liberation Sans', sans-serif" font-size="11.2" fill="#111" stroke="#111" stroke-width="0.25" text-anchor="end">11:40</text>
<text transform="translate(293.03,241.4) rotate(-90)" font-family="'Liberation Sans', sans-serif" font-size="11.2" fill="#111" stroke="#111" stroke-width="0.25" text-anchor="end">12:00</text>
<text transform="translate(313.35,241.4) rotate(-90)" font-family="'Liberation Sans', sans-serif" font-size="11.2" fill="#111" stroke="#111" stroke-width="0.25" text-anchor="end">12:20</text>
<text transform="translate(333.67,241.4) rotate(-90)" font-family="'Liberation Sans', sans-serif" font-size="11.2" fill="#111" stroke="#111" stroke-width="0.25" text-anchor="end">12:40</text>
<text transform="translate(353.99,241.4) rotate(-90)" font-family="'Liberation Sans', sans-serif" font-size="11.2" fill="#111" stroke="#111" stroke-width="0.25" text-anchor="end">13:00</text>
<text transform="translate(374.30,241.4) rotate(-90)" font-family="'Liberation Sans', sans-serif" font-size="11.2" fill="#111" stroke="#111" stroke-width="0.25" text-anchor="end">13:20</text>
<text transform="translate(394.62,241.4) rotate(-90)" font-family="'Liberation Sans', sans-serif" font-size="11.2" fill="#111" stroke="#111" stroke-width="0.25" text-anchor="end">13:40</text>
<text transform="translate(414.94,241.4) rotate(-90)" font-family="'Liberation Sans', sans-serif" font-size="11.2" fill="#111" stroke="#111" stroke-width="0.25" text-anchor="end">14:00</text>
<text transform="translate(435.26,241.4) rotate(-90)" font-family="'Liberation Sans', sans-serif" font-size="11.2" fill="#111" stroke="#111" stroke-width="0.25" text-anchor="end">14:20</text>
<text transform="translate(455.58,241.4) rotate(-90)" font-family="'Liberation Sans', sans-serif" font-size="11.2" fill="#111" stroke="#111" stroke-width="0.25" text-anchor="end">14:40</text>
<text transform="translate(475.90,241.4) rotate(-90)" font-family="'Liberation Sans', sans-serif" font-size="11.2" fill="#111" stroke="#111" stroke-width="0.25" text-anchor="end">15:00</text>
<text x="236.2" y="289.5" font-family="'Liberation Sans', sans-serif" font-size="12.3" font-weight="bold" fill="#111" textLength="61.3" lengthAdjust="spacingAndGlyphs">Time (LST)</text>
<text transform="translate(10.7,170.0) rotate(-90)" font-family="'Liberation Sans', sans-serif" font-size="11.3" font-weight="bold" fill="#111" textLength="77.4" lengthAdjust="spacingAndGlyphs">Air Temp. (°C)</text>
<text transform="translate(516.9,184.6) rotate(-90)" font-family="'Liberation Sans', sans-serif" font-size="11.6" font-weight="bold" fill="#111">Solar Rad. (Wm<tspan font-size="7.5" dy="-4.2">-2</tspan><tspan dy="4.2">)</tspan></text></svg></body></html>
